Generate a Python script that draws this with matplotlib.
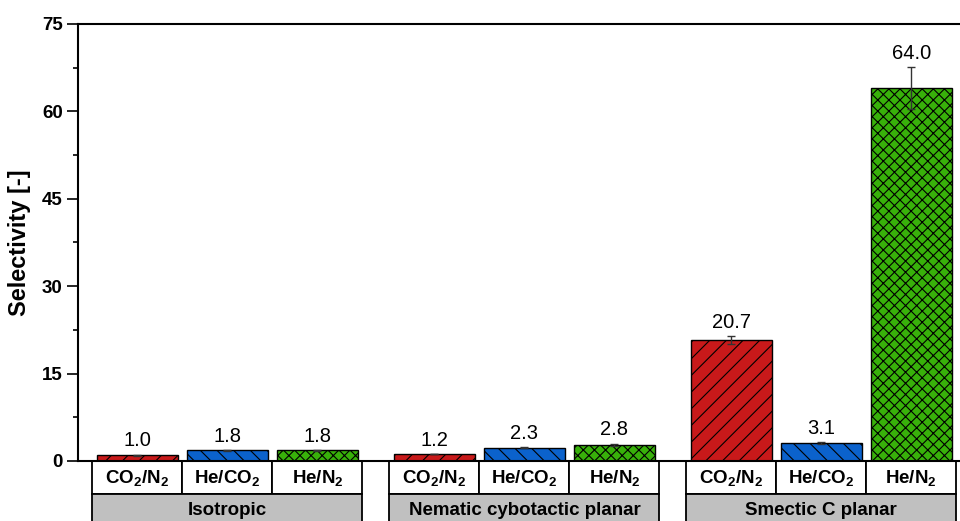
import matplotlib
matplotlib.use("Agg")
import matplotlib.pyplot as plt
from matplotlib.patches import Rectangle

plt.rcParams['font.family'] = ['Liberation Sans', 'DejaVu Sans']
plt.rcParams['mathtext.fontset'] = 'custom'
plt.rcParams['mathtext.rm'] = 'Liberation Sans'
plt.rcParams['mathtext.bf'] = 'Liberation Sans:bold'
plt.rcParams['hatch.linewidth'] = 0.8

# data
phases = ['Isotropic', 'Nematic cybotactic planar', 'Smectic C planar']
pairs = [r'CO$_\mathbf{2}$/N$_\mathbf{2}$', r'He/CO$_\mathbf{2}$', r'He/N$_\mathbf{2}$']
selectivity = [[1.0, 1.8, 1.8],
               [1.2, 2.3, 2.8],
               [20.7, 3.1, 64.0]]
errors = [[0.1, 0.1, 0.1],
          [0.05, 0.15, 0.2],
          [0.7, 0.2, 3.6]]

colors = ['#C8191A', '#0B62CC', '#38B10A']
hatches = ['//', '\\\\', 'xxx']

GROUP_STEP = 3.3   # spacing between phase groups (bar pitch = 1)
ROW_H = 0.0755     # height of one label row, axes fraction

fig = plt.figure(figsize=(9.6, 5.21), dpi=100)
ax = fig.add_axes([0.08125, 0.1152, 0.929, 0.8388])
trans = ax.get_xaxis_transform()

for g, phase in enumerate(phases):
    for i in range(3):
        x = g * GROUP_STEP + i
        val, err = selectivity[g][i], errors[g][i]
        ax.bar(x, val, width=0.9, color=colors[i], edgecolor='black',
               linewidth=1, hatch=hatches[i], zorder=2)
        ax.errorbar(x, val, yerr=err, color='#333333', capsize=3,
                    elinewidth=1, capthick=1, zorder=3)
        ax.annotate(f'{val:.1f}', (x, val + err), xytext=(0, 3),
                    textcoords='offset points', ha='center', va='bottom',
                    fontsize=14.5)
        # pair label cell
        ax.add_patch(Rectangle((x - 0.5, -ROW_H), 1, ROW_H, transform=trans,
                               facecolor='white', edgecolor='black', lw=1.3,
                               clip_on=False))
        ax.text(x, -ROW_H / 2 - 0.003, pairs[i], transform=trans, ha='center',
                va='center', fontsize=13.5, fontweight='bold')
    # phase label cell
    x0 = g * GROUP_STEP - 0.5
    ax.add_patch(Rectangle((x0, -2 * ROW_H), 3, ROW_H, transform=trans,
                           facecolor='#C0C0C0', edgecolor='black', lw=1.3,
                           clip_on=False))
    ax.text(x0 + 1.5, -1.5 * ROW_H, phase, transform=trans, ha='center',
            va='center', fontsize=13.5, fontweight='bold')

ax.set_xlim(-0.661, 9.25)
ax.set_ylim(0, 75)
ax.set_xticks([])
ax.set_yticks(range(0, 76, 15))
ax.set_yticks([7.5, 22.5, 37.5, 52.5, 67.5], minor=True)
ax.tick_params(axis='y', which='major', direction='out', length=8, width=1.2,
               labelsize=13.5, pad=3)
ax.tick_params(axis='y', which='minor', direction='out', length=3.5, width=1.2)
for lbl in ax.get_yticklabels():
    lbl.set_fontweight('bold')
for sp in ax.spines.values():
    sp.set_linewidth(1.5)

ax.set_ylabel('Selectivity [-]', fontsize=17, fontweight='bold', labelpad=8)

fig.savefig('out.png', dpi=100)
